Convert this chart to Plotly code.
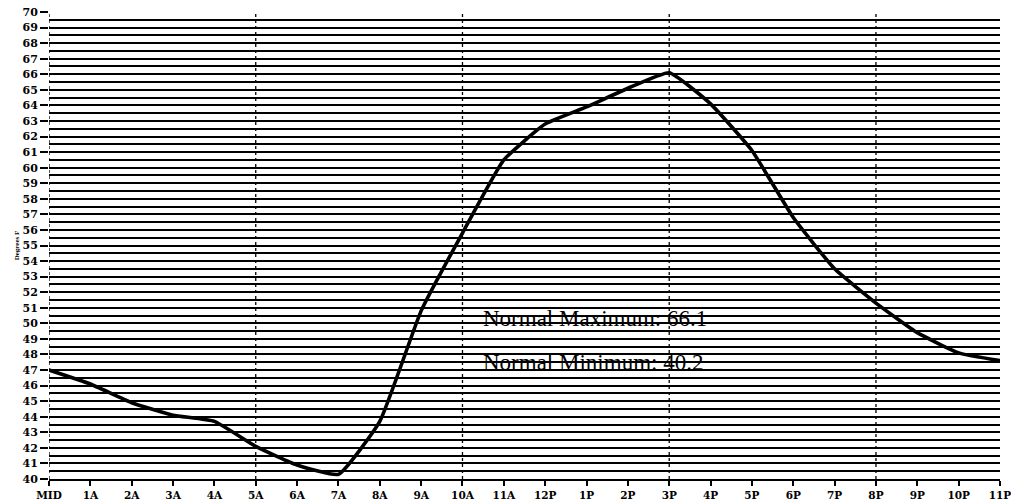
import plotly.graph_objects as go

hours = ["MID", "1A", "2A", "3A", "4A", "5A", "6A", "7A", "8A", "9A", "10A", "11A",
         "12P", "1P", "2P", "3P", "4P", "5P", "6P", "7P", "8P", "9P", "10P", "11P"]
temps = [47.0, 46.1, 44.9, 44.1, 43.7, 42.1, 40.9, 40.3, 43.7, 50.8, 55.8, 60.5,
         62.8, 63.9, 65.1, 66.1, 64.1, 61.1, 56.8, 53.5, 51.3, 49.4, 48.1, 47.6]
guide_hours = ["MID", "5A", "10A", "3P", "8P"]
y_ticks = list(range(40, 71))
notes = ["Normal Maximum: 66.1", "Normal Minimum: 40.2"]
note_y = [50.3, 47.5]
note_x_hour = 10.45

xs = list(range(len(hours)))

fig = go.Figure()
fig.add_trace(go.Scatter(
    x=xs, y=temps, mode="lines",
    line=dict(color="black", width=3.6, shape="spline", smoothing=0.4),
    hoverinfo="skip", showlegend=False,
))

for h in guide_hours:
    fig.add_shape(type="line", xref="x", yref="paper",
                  x0=hours.index(h), x1=hours.index(h), y0=0, y1=1,
                  line=dict(color="black", width=1.3, dash="dot"), layer="above")

for t, yy in zip(notes, note_y):
    fig.add_annotation(x=note_x_hour, y=yy, text=t, showarrow=False,
                       xanchor="left", yanchor="middle",
                       font=dict(family="Liberation Serif", size=23, color="black"))

fig.update_layout(
    width=1011, height=504,
    margin=dict(l=49, r=11, t=12, b=25, autoexpand=False),
    paper_bgcolor="white", plot_bgcolor="white",
    xaxis=dict(
        range=[0, 23], tickvals=xs, ticktext=hours, automargin=False,
        ticklabeloverflow="allow",
        showgrid=False, zeroline=False,
        showline=True, linecolor="black", linewidth=2,
        ticks="outside", ticklen=5, tickwidth=2, tickcolor="black",
        tickfont=dict(family="DejaVu Serif", size=10.5, color="black", weight="bold"),
    ),
    yaxis=dict(
        range=[40, 70], tickvals=y_ticks, ticktext=[str(v) for v in y_ticks],
        automargin=False,
        showgrid=True, gridcolor="black", gridwidth=2,
        minor=dict(dtick=0.5, showgrid=True, gridcolor="black", gridwidth=1.6),
        zeroline=False, showline=False,
        ticks="outside", ticklen=8, tickwidth=2, tickcolor="black",
        tickfont=dict(family="DejaVu Serif", size=11, color="black", weight="bold"),
        title=dict(text="<b>Degrees F</b>", standoff=2,
                   font=dict(family="Liberation Serif", size=7, color="black")),
    ),
)

fig.write_html("out.html", config={"displayModeBar": False},
               post_script="document.body.style.margin='0';document.body.style.overflow='hidden';")
